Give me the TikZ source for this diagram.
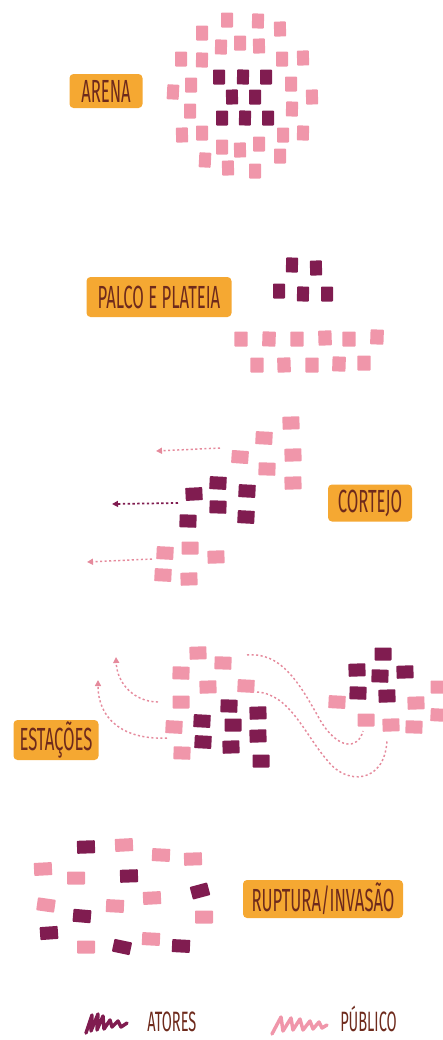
\documentclass[tikz,border=0pt]{standalone}
\usepackage{fontspec}
\usetikzlibrary{arrows.meta}
\newfontfamily\handfont[FakeStretch=0.52]{Fira Sans}
\definecolor{pinkc}{HTML}{F096AA}
\definecolor{darkc}{HTML}{801C50}
\definecolor{orangec}{HTML}{F5A832}
\definecolor{brownc}{HTML}{6E2A1C}
\definecolor{dashpink}{HTML}{E58A9C}
\tikzset{
  sq/.style={inner sep=0pt, outer sep=0pt, draw=none, rounded corners=0.6pt},
  pk/.style={sq, fill=pinkc},
  dk/.style={sq, fill=darkc},
  tallsq/.style={minimum width=9pt, minimum height=11.25pt},
  widesq/.style={minimum width=12.75pt, minimum height=9.75pt},
  lab/.style={fill=orangec, rounded corners=3pt, inner sep=0pt, text=brownc,
    font=\handfont\fontsize{24}{24}\selectfont},
  legtext/.style={text=brownc, font=\handfont\fontsize{21}{21}\selectfont, inner sep=0pt},
  flow/.style={line width=1.1pt, dash pattern=on 1.6pt off 1.8pt, dashpink},
  flowdk/.style={line width=1.3pt, dash pattern=on 1.8pt off 1.8pt, darkc},
  tip/.style={-{Triangle[length=4.5pt,width=4.5pt]}},
  scribble/.style={line width=2.6pt, line cap=round, line join=round}
}
\begin{document}
\begin{tikzpicture}[x=0.75pt,y=-0.75pt]
\useasboundingbox (0,0) rectangle (443,1040);
% ---------- ARENA ----------
\node[lab, minimum width=54.75pt, minimum height=25.5pt] (arena) at (106,91) {ARENA};
\foreach \x/\y/\r [count=\i] in {227/20/0, 258/21/-2, 280/29/2, 202/33/0, 221/47/-2, 240/43/0, 259/46/2, 181/59/0, 202/60/-2, 282/59/0, 303/58/2, 191/85/0, 173/92/-3, 291/84/0, 312/97/2, 190/111/0, 292/109/-2, 182/135/2, 202/133/0, 283/135/0, 303/133/-2, 222/147/0, 240/150/2, 259/144/0, 205/160/-3, 280/156/0, 228/168/2, 255/171/0}
  {\node[pk,tallsq,rotate=\r] (ap\i) at (\x,\y) {};}
\foreach \x/\y/\r [count=\i] in {219/77/0, 243/77/-2, 266/77/0, 232/97/2, 255/97/0, 222/118/0, 245/118/-2, 268/118/0}
  {\node[dk,tallsq,rotate=\r] (ad\i) at (\x,\y) {};}
% ---------- PALCO E PLATEIA ----------
\node[lab, minimum width=108.75pt, minimum height=30pt] (palco) at (159,297) {PALCO E PLATEIA};
\foreach \x/\y/\r [count=\i] in {292/265/-2, 316/268/2, 279/291/0, 303/294/-2, 327/294/0}
  {\node[dk,tallsq,rotate=\r] (pd\i) at (\x,\y) {};}
\foreach \x/\y/\r [count=\i] in {241/339/0, 269/339/-2, 297/339/0, 325/338/2, 349/339/0, 377/337/-2, 257/365/0, 284/365/2, 312/365/0, 339/364/-2, 364/363/0}
  {\node[pk,tallsq,minimum width=10pt,rotate=\r] (pp\i) at (\x,\y) {};}
% ---------- CORTEJO ----------
\node[lab, minimum width=63pt, minimum height=27.75pt] (cortejo) at (370,503) {CORTEJO};
\foreach \x/\y/\r [count=\i] in {291/423/2, 264/438/-3, 240/457/-4, 293/455/2, 267/469/-2, 293/483/2, 190/548/0, 165/553/-3, 216/557/2, 163/575/-3, 189/579/2}
  {\node[pk,widesq,rotate=\r] (cp\i) at (\x,\y) {};}
\foreach \x/\y/\r [count=\i] in {218/483/-3, 247/491/-3, 194/494/3, 218/507/-2, 246/517/-3, 188/521/-2}
  {\node[dk,widesq,rotate=\r] (cd\i) at (\x,\y) {};}
\coordinate (ca1) at (220,448); \coordinate (cb1) at (156,451);
\coordinate (ca2) at (178,503); \coordinate (cb2) at (112,504);
\coordinate (ca3) at (152,559); \coordinate (cb3) at (87,562);
\draw[flow,tip] (ca1) -- (cb1);
\draw[flowdk,tip] (ca2) -- (cb2);
\draw[flow,tip] (ca3) -- (cb3);
% ---------- ESTACOES ----------
\node[lab, minimum width=63.75pt, minimum height=30pt] (estacoes) at (56,740) {ESTAÇÕES};
\foreach \x/\y/\r [count=\i] in {198/653/2, 223/663/-2, 181/673/-2, 208/687/2, 246/686/-3, 181/702/0, 174/727/-3, 182/753/-2, 337/702/-3, 416/703/2, 439/687/0, 439/715/-3, 366/720/0, 391/725/2, 414/727/-2}
  {\node[pk,widesq,rotate=\r] (ep\i) at (\x,\y) {};}
\foreach \x/\y/\r [count=\i] in {229/706/-2, 258/713/2, 202/721/-3, 233/725/0, 258/736/2, 203/742/-3, 231/747/2, 261/761/0, 383/654/0, 357/670/2, 380/676/-2, 405/672/2, 358/693/-2, 387/696/2}
  {\node[dk,widesq,rotate=\r] (ed\i) at (\x,\y) {};}
\coordinate (e1a) at (158,702); \coordinate (e1b) at (116,657);
\coordinate (e2a) at (167,738); \coordinate (e2b) at (98,680);
\coordinate (e3a) at (247,655); \coordinate (e3m) at (320,720); \coordinate (e3b) at (363,731);
\coordinate (e4a) at (257,692); \coordinate (e4m) at (327,760); \coordinate (e4b) at (387,740);
\draw[flow,tip] (e1a) .. controls (135,702) and (117,684) .. (e1b);
\draw[flow,tip] (e2a) .. controls (122,740) and (98,718) .. (e2b);
\draw[flow] (e3a) .. controls (280,652) and (298,680) .. (e3m)
  .. controls (338,750) and (358,750) .. (e3b);
\draw[flow] (e4a) .. controls (290,694) and (305,735) .. (e4m)
  .. controls (345,785) and (385,785) .. (e4b);
% ---------- RUPTURA/INVASAO ----------
\node[lab, minimum width=120pt, minimum height=28.5pt] (ruptura) at (323,899) {RUPTURA/INVASÃO};
\foreach \x/\y/\r [count=\i] in {86/847/2, 129/876/2, 200/891/15, 82/916/-5, 49/933/4, 122/947/-12, 181/946/-3}
  {\node[dk,widesq,minimum width=13.5pt,rotate=\r] (rd\i) at (\x,\y) {};}
\foreach \x/\y/\r [count=\i] in {124/845/3, 161/855/-3, 193/859/2, 43/869/3, 76/878/0, 152/898/3, 46/905/-8, 115/906/-3, 204/917/0, 86/947/0, 151/939/-3}
  {\node[pk,widesq,minimum width=13.5pt,rotate=\r] (rp\i) at (\x,\y) {};}
% ---------- LEGEND ----------
\coordinate (s1) at (86,1033);
\draw[scribble,darkc] (s1) -- (92,1015) -- (91,1031) -- (98,1014) -- (97,1030) -- (103,1016)
  -- (104,1029) -- (110,1020) -- (112,1027) -- (118,1021) -- (121,1027) -- (127,1023);
\node[legtext, anchor=base west] (atores) at (147,1031) {ATORES};
\coordinate (s2) at (272,1034);
\draw[scribble,pinkc] (s2) -- (281,1017) -- (283,1031) -- (291,1018) -- (293,1030) -- (300,1019)
  -- (303,1030) -- (310,1021) -- (313,1029) -- (319,1022) -- (322,1028) -- (327,1025);
\node[legtext, anchor=base west] (publico) at (340,1031) {PÚBLICO};
\end{tikzpicture}
\end{document}
